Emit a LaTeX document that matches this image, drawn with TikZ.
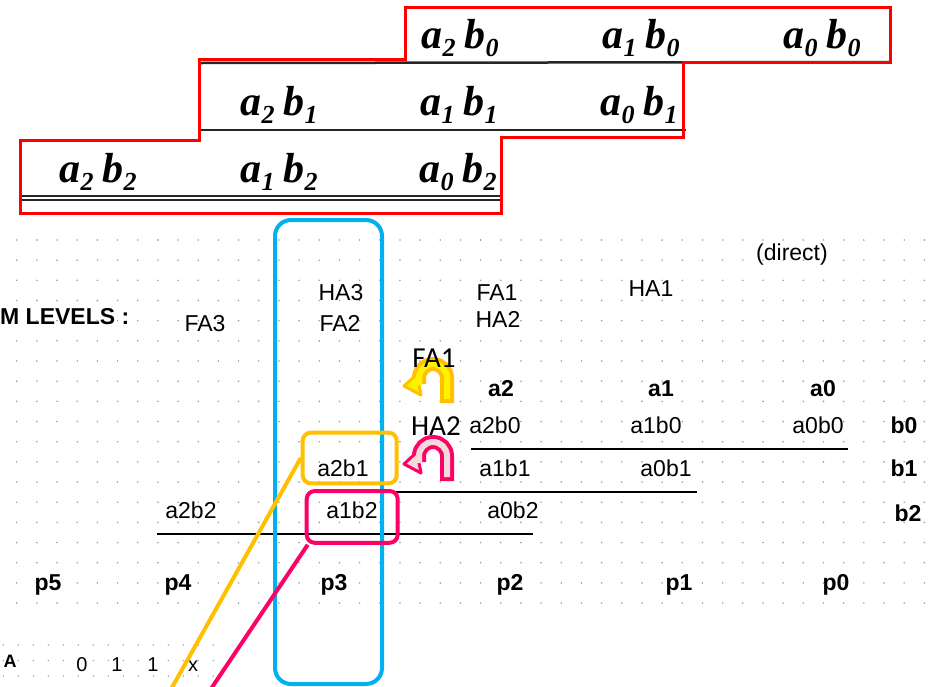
\documentclass[tikz,border=0pt]{standalone}
\usepackage{fontspec}
\setmainfont{Liberation Sans}
\newfontfamily\scanfont{Liberation Serif}
\newfontfamily\calfont{Carlito}
\usetikzlibrary{arrows.meta}
\definecolor{colblue}{HTML}{00B0F0}
\definecolor{boxgold}{HTML}{FFC000}
\definecolor{boxpink}{HTML}{FF0066}
\definecolor{pinkfill}{HTML}{F2DCDB}
\definecolor{dotgray}{HTML}{A0A0A0}
\newcommand\ppterm[2]{a\raisebox{-8pt}{\fontsize{26}{26}\selectfont #1}\hspace{9pt}b\raisebox{-8pt}{\fontsize{26}{26}\selectfont #2}}
\begin{document}
\begin{tikzpicture}[x=1pt, y=-1pt,
    scan/.style={font=\scanfont\bfseries\itshape\fontsize{42}{44}\selectfont, inner sep=0pt, anchor=base},
    lbl/.style={font=\fontsize{23}{25}\selectfont, inner sep=0pt, anchor=base},
    blbl/.style={font=\bfseries\fontsize{23}{25}\selectfont, inner sep=0pt, anchor=base},
    big/.style={font=\calfont\fontsize{29}{30}\selectfont, inner sep=0pt, anchor=base},
    inrow/.style={font=\fontsize{20}{22}\selectfont, inner sep=0pt, anchor=base},
    hlbox/.style={draw=#1, line width=4pt, rounded corners=8pt, inner sep=0pt},
    sumrule/.style={line width=2pt},
    scanrule/.style={line width=2.5pt, black!85},
    uturn/.style={line width=14pt, draw=#1},
    uturnin/.style={line width=6pt, draw=#1, shorten <=4pt},
    uhead/.style={fill=#1, line width=3pt, line join=round}]
    \clip (0,0) rectangle (932,686);

    % dot grid
    \foreach \i in {0,...,45}
        \foreach \j in {0,...,18}
            \fill[dotgray] ({16.7+20.17*\i},{240+20.17*\j}) circle (0.9);
    \foreach \i in {0,...,14}
        \foreach \j in {0,1,2}
            \fill[dotgray] ({3.3+15*\i},{645+15.5*\j}) circle (0.8);

    % scanned partial products
    \draw[scanrule] (200,63) -- (891,62);
    \draw[scanrule] (200,130) -- (686,130);
    \draw[scanrule] (20,196) -- (500,196);
    \draw[scanrule, line width=1.5pt] (20,200) -- (500,200);
    \node[scan] (sa2b0) at (460,48) {\ppterm{2}{0}};
    \node[scan] (sa1b0) at (641,48) {\ppterm{1}{0}};
    \node[scan] (sa0b0) at (822,48) {\ppterm{0}{0}};
    \node[scan] (sa2b1) at (279,115) {\ppterm{2}{1}};
    \node[scan] (sa1b1) at (459,115) {\ppterm{1}{1}};
    \node[scan] (sa0b1) at (639,115) {\ppterm{0}{1}};
    \node[scan] (sa2b2) at (98,182) {\ppterm{2}{2}};
    \node[scan] (sa1b2) at (279,182) {\ppterm{1}{2}};
    \node[scan] (sa0b2) at (458,182) {\ppterm{0}{2}};
    \draw[red, line width=3pt] (405,7) -- (890,7) -- (890,62) -- (683,62) -- (683,137)
        -- (501,137) -- (501,213) -- (20,213) -- (20,140) -- (199,140) -- (199,59) -- (405,59) -- cycle;

    % levels
    \node[lbl] (direct) at (792,260) {(direct)};
    \node[blbl, anchor=base west] (levels) at (0,324) {M LEVELS :};
    \node[lbl] (fa3) at (205,331) {FA3};
    \node[lbl] (ha3) at (341,300) {HA3};
    \node[lbl] (fa2) at (340,331) {FA2};
    \node[lbl] (fa1) at (497,300) {FA1};
    \node[lbl] (ha2) at (498,327) {HA2};
    \node[lbl] (ha1) at (651,296) {HA1};

    % multiplier rows
    \node[blbl] (a2) at (501,396) {a2};
    \node[blbl] (a1) at (661,396) {a1};
    \node[blbl] (a0) at (823,396) {a0};
    \node[lbl] (a2b0) at (495,433) {a2b0};
    \node[lbl] (a1b0) at (656,433) {a1b0};
    \node[lbl] (a0b0) at (818,433) {a0b0};
    \node[blbl] (b0) at (904,433) {b0};
    \node[lbl] (a2b1) at (343,476) {a2b1};
    \node[lbl] (a1b1) at (505,476) {a1b1};
    \node[lbl] (a0b1) at (666,476) {a0b1};
    \node[blbl] (b1) at (904,476) {b1};
    \node[lbl] (a2b2) at (191,518) {a2b2};
    \node[lbl] (a1b2) at (352,518) {a1b2};
    \node[lbl] (a0b2) at (513,518) {a0b2};
    \node[blbl] (b2) at (908,521) {b2};
    \draw[sumrule] (471,449) -- (848,449);
    \draw[sumrule] (393,492) -- (697,492);
    \draw[sumrule] (157,534) -- (533,534);

    % result bits
    \node[blbl] (p5) at (48,590) {p5};
    \node[blbl] (p4) at (178,590) {p4};
    \node[blbl] (p3) at (334,590) {p3};
    \node[blbl] (p2) at (510,590) {p2};
    \node[blbl] (p1) at (679,590) {p1};
    \node[blbl] (p0) at (836,590) {p0};

    % input row
    \node[inrow, font=\bfseries\fontsize{18}{20}\selectfont] (inA) at (10,667) {A};
    \node[inrow] (d2) at (82,671) {0};
    \node[inrow] (d1) at (117,671) {1};
    \node[inrow] (d0) at (153,671) {1};
    \node[inrow] (dx) at (193,671) {x};

    % highlights
    \node[draw=colblue, line width=4pt, rounded corners=16pt, minimum width=107pt, minimum height=464pt] (p3col) at (328.5,452) {};
    \node[hlbox=boxgold, minimum width=94pt, minimum height=50.6pt] (goldbox) at (349.7,458) {};
    \node[hlbox=boxpink, minimum width=91pt, minimum height=51.7pt] (pinkbox) at (352.2,516.9) {};
    \coordinate (goldend) at (165,700);
    \coordinate (pinkend) at (203.5,700);
    \draw[boxgold, line width=4pt] (goldbox.west) -- (goldend);
    \draw[boxpink, line width=4pt] ([xshift=3pt]pinkbox.south west) -- (pinkend);

    % u-turn arrows
    \draw[uturn=boxgold] (447,403) -- (447,378) arc[start angle=0, end angle=-180, radius=14] -- (419,384);
    \draw[uhead=yellow, draw=boxgold] (404,386) -- (417,374) -- (421,395) -- cycle;
    \draw[uturnin=yellow] (447,403) -- (447,378) arc[start angle=0, end angle=-180, radius=14] -- (419,385);
    \draw[uturn=boxpink] (447,481) -- (447,456) arc[start angle=0, end angle=-180, radius=14] -- (419,462);
    \draw[uhead=pinkfill, draw=boxpink] (404,464) -- (417,452) -- (421,473) -- cycle;
    \draw[uturnin=pinkfill] (447,481) -- (447,456) arc[start angle=0, end angle=-180, radius=14] -- (419,463);
    \node[big] (bigfa1) at (434,367) {FA1};
    \node[big] (bigha2) at (436,435) {HA2};
\end{tikzpicture}
\end{document}
